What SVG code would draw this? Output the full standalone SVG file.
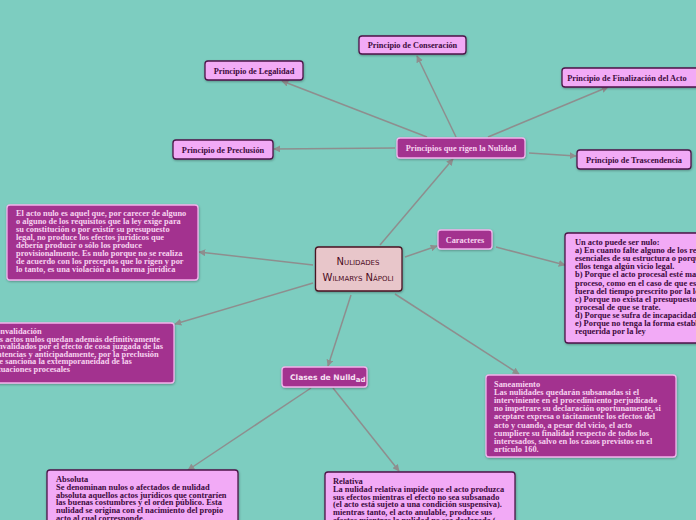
<svg xmlns="http://www.w3.org/2000/svg" width="696" height="520" viewBox="0 0 696 520">
<defs>
<marker id="ah" viewBox="0 0 10 10" refX="9" refY="5" markerWidth="7" markerHeight="7" markerUnits="userSpaceOnUse" orient="auto">
<path d="M0,0 L10,5 L0,10 z" fill="#8e8e8e"/>
</marker>
<filter id="sh" x="-10%" y="-10%" width="120%" height="130%">
<feDropShadow dx="0.5" dy="1" stdDeviation="0.8" flood-color="#000" flood-opacity="0.3"/>
</filter>
</defs>
<style>
.pink{fill:#f2aaf6;stroke:#4c1448;stroke-width:1.3;filter:url(#sh)}
.purp{fill:#a3318f;stroke:#f3b3ec;stroke-width:1.3;filter:url(#sh)}
.ct{fill:#e8c6ca;stroke:#4a1222;stroke-width:1.3;filter:url(#sh)}
.lp{font-family:"Liberation Serif",serif;font-weight:bold;font-size:8.3px;fill:#3d0b3c}
.lw{font-family:"Liberation Serif",serif;font-weight:bold;font-size:8.3px;fill:#f7d2ef}
.bp{font-family:"Liberation Serif",serif;font-weight:bold;font-size:8.4px;fill:#3d0b3c}
.bw{font-family:"Liberation Serif",serif;font-weight:bold;font-size:8.4px;fill:#f7d2ef}
.cen{font-family:"DejaVu Sans",sans-serif;font-variant:small-caps;font-size:10px;fill:#4a0a22}
.edge{stroke:#8e8e8e;stroke-width:1.5;fill:none;marker-end:url(#ah)}
</style>
<rect width="696" height="520" fill="#7dcdc0"/>

<g id="connectors">
<line class="edge" x1="380" y1="245" x2="453" y2="159"/>
<line class="edge" x1="456" y1="137" x2="417" y2="56"/>
<line class="edge" x1="427" y1="137" x2="282" y2="81"/>
<line class="edge" x1="488" y1="137" x2="608" y2="87"/>
<line class="edge" x1="395" y1="148" x2="274" y2="149"/>
<line class="edge" x1="529" y1="153" x2="576" y2="156"/>
<line class="edge" x1="405" y1="257" x2="437" y2="246"/>
<line class="edge" x1="313" y1="265" x2="199" y2="252"/>
<line class="edge" x1="313" y1="283" x2="175" y2="324"/>
<line class="edge" x1="351" y1="295" x2="328" y2="366"/>
<line class="edge" x1="395" y1="294" x2="519" y2="374"/>
<line class="edge" x1="496" y1="247" x2="565" y2="265"/>
<line class="edge" x1="311" y1="388" x2="188" y2="470"/>
<line class="edge" x1="333" y1="388" x2="399" y2="471"/>
</g>

<g id="central">
<rect class="ct" x="315.5" y="247" width="86.5" height="44" rx="3"/>
<text class="cen" x="358" y="265" text-anchor="middle">Nulidades</text>
<text class="cen" x="358" y="281" text-anchor="middle">Wilmarys Nápoli</text>
</g>

<g id="principios">
<rect class="purp" x="397" y="138" width="128" height="20" rx="3"/>
<text class="lw" x="461" y="151" text-anchor="middle">Principios que rigen la Nulidad</text>
</g>

<g id="conservacion">
<rect class="pink" x="359" y="36" width="107" height="18" rx="3"/>
<text class="lp" x="412.5" y="48" text-anchor="middle">Principio de Conseración</text>
</g>

<g id="legalidad">
<rect class="pink" x="205" y="61" width="98" height="19" rx="3"/>
<text class="lp" x="254" y="73.5" text-anchor="middle">Principio de Legalidad</text>
</g>

<g id="finalizacion">
<rect class="pink" x="562" y="68" width="138" height="19" rx="3"/>
<text class="lp" x="627" y="80.5" text-anchor="middle">Principio de Finalización del Acto</text>
</g>

<g id="preclusion">
<rect class="pink" x="173" y="140" width="100" height="19" rx="3"/>
<text class="lp" x="223" y="152.5" text-anchor="middle">Principio de Preclusión</text>
</g>

<g id="trascendencia">
<rect class="pink" x="577" y="150" width="114" height="19" rx="3"/>
<text class="lp" x="634" y="162.5" text-anchor="middle">Principio de Trascendencia</text>
</g>

<g id="caracteres">
<rect class="purp" x="438" y="230" width="54" height="19" rx="3"/>
<text class="lw" x="465" y="242.5" text-anchor="middle">Caracteres</text>
</g>

<g id="clases">
<rect class="purp" x="282" y="367" width="85" height="20" rx="3"/>
<text x="290" y="380" style="font-family:'DejaVu Sans',sans-serif;font-weight:bold;font-size:7.6px;fill:#f7e0f2">Clases de Nulld<tspan dy="1.5" style="font-size:7px">ad</tspan></text>
</g>

<g id="acto-nulo">
<rect class="purp" x="7" y="205" width="191" height="75" rx="3"/>
<text class="bw">
<tspan x="16" y="216">El acto nulo es aquel que, por carecer de alguno</tspan>
<tspan x="16" y="224">o alguno de los requisitos que la ley exige para</tspan>
<tspan x="16" y="232">su constitución o por existir su presupuesto</tspan>
<tspan x="16" y="240">legal, no produce los efectos jurídicos que</tspan>
<tspan x="16" y="248">debería producir o sólo los produce</tspan>
<tspan x="16" y="256">provisionalmente. Es nulo porque no se realiza</tspan>
<tspan x="16" y="264">de acuerdo con los preceptos que lo rigen y por</tspan>
<tspan x="16" y="272">lo tanto, es una violación a la norma jurídica</tspan>
</text>
</g>

<g id="convalidacion">
<rect class="purp" x="-16" y="323" width="190" height="60" rx="3"/>
<text class="bw">
<tspan x="-10" y="334">Convalidación</tspan>
<tspan x="-10" y="341.6">Los actos nulos quedan además definitivamente</tspan>
<tspan x="-10" y="349.2">convalidados por el efecto de cosa juzgada de las</tspan>
<tspan x="-10" y="356.8">sentencias y anticipadamente, por la preclusión</tspan>
<tspan x="-10" y="364.4">que sanciona la extemporaneidad de las</tspan>
<tspan x="-10" y="372">actuaciones procesales</tspan>
</text>
</g>

<g id="un-acto">
<rect class="pink" x="565" y="233" width="140" height="110" rx="3"/>
<text class="bp">
<tspan x="575" y="245">Un acto puede ser nulo:</tspan>
<tspan x="575" y="253.1"> a) En cuanto falte alguno de los requisitos</tspan>
<tspan x="575" y="261.2">esenciales de su estructura o porque alguno de</tspan>
<tspan x="575" y="269.3">ellos tenga algún vicio legal.</tspan>
<tspan x="575" y="277.4">b) Porque el acto procesal esté mal ubicado en el</tspan>
<tspan x="575" y="285.5">proceso, como en el caso de que este se realice</tspan>
<tspan x="575" y="293.6">fuera del tiempo prescrito por la ley.</tspan>
<tspan x="575" y="301.7">c) Porque no exista el presupuesto</tspan>
<tspan x="575" y="309.8">procesal de que se trate.</tspan>
<tspan x="575" y="317.9">d) Porque se sufra de incapacidad.</tspan>
<tspan x="575" y="326">e) Porque no tenga la forma establecida</tspan>
<tspan x="575" y="334.1">requerida por la ley</tspan>
</text>
</g>

<g id="saneamiento">
<rect class="purp" x="486" y="375" width="190" height="82" rx="3"/>
<text class="bw">
<tspan x="494" y="387">Saneamiento</tspan>
<tspan x="494" y="395.1">Las nulidades quedarán subsanadas si el</tspan>
<tspan x="494" y="403.2">interviniente en el procedimiento perjudicado</tspan>
<tspan x="494" y="411.3">no impetrare su declaración oportunamente, si</tspan>
<tspan x="494" y="419.4">aceptare expresa o tácitamente los efectos del</tspan>
<tspan x="494" y="427.5">acto y cuando, a pesar del vicio, el acto</tspan>
<tspan x="494" y="435.6">cumpliere su finalidad respecto de todos los</tspan>
<tspan x="494" y="443.7">interesados, salvo en los casos previstos en el</tspan>
<tspan x="494" y="451.8">artículo 160.</tspan>
</text>
</g>

<g id="absoluta">
<rect class="pink" x="47" y="470" width="191" height="60" rx="3"/>
<text class="bp">
<tspan x="56" y="482">Absoluta</tspan>
<tspan x="56" y="489.8">Se denominan nulos o afectados de nulidad</tspan>
<tspan x="56" y="497.6">absoluta aquellos actos jurídicos que contraríen</tspan>
<tspan x="56" y="505.4">las buenas costumbres y el orden público. Esta</tspan>
<tspan x="56" y="513.2">nulidad se origina con el nacimiento del propio</tspan>
<tspan x="56" y="521">acto al cual corresponde.</tspan>
</text>
</g>

<g id="relativa">
<rect class="pink" x="325" y="472" width="190" height="60" rx="3"/>
<text class="bp">
<tspan x="333" y="484">Relativa</tspan>
<tspan x="333" y="491.8">La nulidad relativa impide que el acto produzca</tspan>
<tspan x="333" y="499.6">sus efectos mientras el efecto no sea subsanado</tspan>
<tspan x="333" y="507.4">(el acto está sujeto a una condición suspensiva).</tspan>
<tspan x="333" y="515.2">mientras tanto, el acto anulable, produce sus</tspan>
<tspan x="333" y="523">efectos mientras la nulidad no sea declarada (</tspan>
</text>
</g>
</svg>
